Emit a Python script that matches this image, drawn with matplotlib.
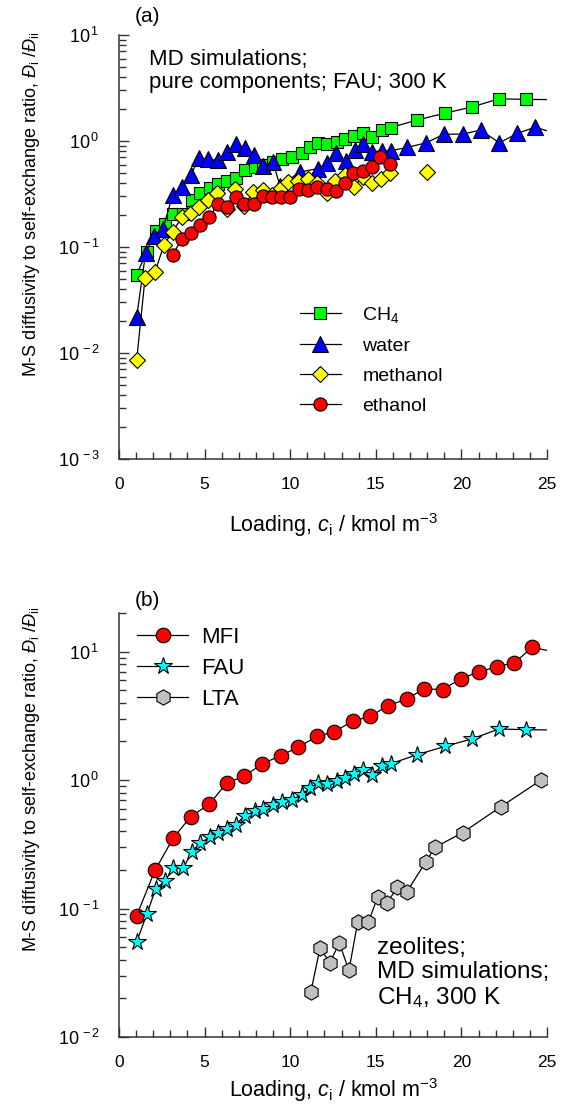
import numpy as np
import matplotlib
matplotlib.use("Agg")
import matplotlib.pyplot as plt
from matplotlib.ticker import FixedLocator, LogLocator, FuncFormatter, NullFormatter

plt.rcParams['font.family'] = ['Liberation Sans', 'DejaVu Sans']
plt.rcParams['mathtext.fontset'] = 'custom'
plt.rcParams['mathtext.rm'] = 'Liberation Sans'
plt.rcParams['mathtext.it'] = 'Liberation Sans:italic'
plt.rcParams['mathtext.bf'] = 'Liberation Sans:bold'

# ---------------- data ----------------
# CH4 in FAU (used in both panels)
fau_x = [1.03, 1.62, 2.14, 2.69, 3.17, 3.76, 4.24, 4.73, 5.32, 5.80, 6.29, 6.82, 7.36,
         7.94, 8.43, 8.98, 9.50, 10.09, 10.67, 11.16, 11.64, 12.13, 12.72, 13.20, 13.73,
         14.23, 14.76, 15.34, 15.87, 17.43, 19.04, 20.60, 22.20, 23.77, 26.0]
fau_y = [0.055, 0.090, 0.142, 0.164, 0.207, 0.207, 0.275, 0.324, 0.36, 0.39, 0.42, 0.45, 0.53,
         0.57, 0.60, 0.64, 0.67, 0.70, 0.77, 0.87, 0.95, 0.94, 0.98, 1.04, 1.11,
         1.20, 1.10, 1.28, 1.34, 1.58, 1.83, 2.09, 2.50, 2.47, 2.45]

water_x = [1.03, 1.55, 2.03, 2.55, 3.14, 3.70, 4.19, 4.69, 5.22, 5.80, 6.33, 6.83, 7.36,
           7.90, 8.43, 8.98, 9.40, 10.57, 11.64, 12.17, 12.68, 13.24, 13.78, 14.27, 14.76,
           15.34, 15.87, 16.84, 17.93, 19.00, 20.07, 21.13, 22.21, 23.27, 24.30, 26.0]
water_y = [0.0217, 0.087, 0.128, 0.147, 0.31, 0.37, 0.48, 0.69, 0.67, 0.66, 0.78, 0.94, 0.85,
           0.74, 0.58, 0.64, 0.38, 0.51, 0.55, 0.62, 0.77, 0.65, 0.82, 0.94, 0.79,
           0.81, 0.81, 0.87, 0.96, 1.16, 1.16, 1.27, 0.96, 1.18, 1.35, 1.12]

meth_x = [1.03, 1.52, 2.10, 2.63, 3.14, 3.66, 4.19, 4.69, 5.22, 5.74, 6.29, 6.78, 7.30,
          7.84, 8.39, 8.92, 9.45, 9.89, 10.47, 11.06, 11.58, 12.13, 12.62, 13.20, 13.73,
          14.23, 14.80, 15.28, 15.83]
meth_y = [0.0085, 0.051, 0.058, 0.105, 0.14, 0.19, 0.21, 0.24, 0.28, 0.325, 0.23, 0.35, 0.245,
          0.33, 0.345, 0.31, 0.36, 0.41, 0.42, 0.44, 0.40, 0.32, 0.42, 0.48, 0.37,
          0.46, 0.40, 0.435, 0.50]
meth_extra_x = [17.97]
meth_extra_y = [0.51]

eth_x = [3.14, 3.66, 4.19, 4.73, 5.27, 5.80, 6.29, 6.83, 7.30, 7.88, 8.39, 8.92, 9.45,
         9.99, 10.51, 11.06, 11.58, 12.13, 12.68, 13.20, 13.69, 14.23, 14.76, 15.25, 15.83]
eth_y = [0.084, 0.12, 0.136, 0.161, 0.193, 0.255, 0.24, 0.294, 0.255, 0.255, 0.30, 0.294, 0.294,
         0.294, 0.35, 0.345, 0.366, 0.35, 0.34, 0.40, 0.50, 0.52, 0.565, 0.70, 0.61]

mfi_x = [1.03, 2.10, 3.17, 4.19, 5.28, 6.29, 7.30, 8.37, 9.44, 10.47, 11.55, 12.56, 13.65,
         14.66, 15.73, 16.80, 17.83, 18.90, 19.96, 21.00, 22.06, 23.09, 24.14, 26.0]
mfi_y = [0.088, 0.198, 0.354, 0.52, 0.65, 0.95, 1.07, 1.34, 1.55, 1.80, 2.19, 2.38, 2.87,
         3.13, 3.80, 4.28, 5.13, 5.07, 6.14, 6.96, 7.62, 8.19, 10.8, 9.6]

lta_x = [11.20, 11.74, 12.32, 12.87, 13.43, 13.94, 14.56, 15.11, 15.67, 16.26, 16.80,
         17.91, 18.46, 20.07, 22.30, 24.65]
lta_y = [0.0223, 0.049, 0.038, 0.054, 0.033, 0.078, 0.078, 0.123, 0.111, 0.147, 0.134,
         0.23, 0.30, 0.39, 0.62, 1.0]

xticks = [0, 5, 10, 15, 20, 25]

# ---------------- figure ----------------
W, H = 568, 1119
fig = plt.figure(figsize=(W / 100, H / 100), dpi=100)
ax_a = fig.add_axes([119 / W, (H - 459) / H, 428 / W, 424 / H])
ax_b = fig.add_axes([119 / W, (H - 1037) / H, 428 / W, 424 / H])

line_kw = dict(color='black', lw=0.9, mec='black', mew=0.8)


def log_fmt(v, pos):
    e = int(round(np.log10(v)))
    return r'10$^{\,%d}$' % e


def style(ax, ylim, xlabelpad):
    ax.set_yscale('log')
    ax.set_xlim(0, 25)
    ax.set_ylim(*ylim)
    for s in ['top', 'right']:
        ax.spines[s].set_visible(False)
    for s in ['left', 'bottom']:
        ax.spines[s].set_linewidth(1.1)
        ax.spines[s].set_color('#333333')
    ax.xaxis.set_major_locator(FixedLocator(xticks))
    ax.xaxis.set_minor_locator(FixedLocator(np.arange(0, 26, 1)))
    ax.yaxis.set_major_locator(LogLocator(base=10, numticks=10))
    ax.yaxis.set_minor_locator(LogLocator(base=10, subs=np.arange(2, 10), numticks=10))
    ax.yaxis.set_major_formatter(FuncFormatter(log_fmt))
    ax.yaxis.set_minor_formatter(NullFormatter())
    ax.tick_params(which='both', direction='in', color='#333333', width=1.0)
    ax.tick_params(axis='x', labelsize=12.5)
    ax.tick_params(axis='y', labelsize=13)
    ax.tick_params(which='major', length=7)
    ax.tick_params(which='minor', length=5)
    ax.tick_params(axis='x', which='major', pad=13)
    ax.tick_params(axis='y', which='major', pad=14)
    ax.set_xlabel(r'Loading, $\mathit{c}_{\mathrm{i}}$ / kmol m$^{-3}$', fontsize=15.5,
                  labelpad=xlabelpad)
    ax.set_ylabel(r'M-S diffusivity to self-exchange ratio, $\mathit{Đ}_{\mathrm{i}}$ /$\mathit{Đ}_{\mathrm{ii}}$',
                  fontsize=13)


# ---------- panel (a) ----------
style(ax_a, (1e-3, 10), 14)
ax_a.plot(fau_x, fau_y, marker='s', ms=9, mfc='#00ff00', label='CH$_4$', **line_kw)
ax_a.plot(water_x, water_y, marker='^', ms=11, mfc='#0000ff', label='water', **line_kw)
ax_a.plot(meth_x, meth_y, marker='D', ms=8.5, mfc='#ffff00', label='methanol', **line_kw)
ax_a.plot(meth_extra_x, meth_extra_y, ls='none', marker='D', ms=8.5, mfc='#ffff00',
          mec='black', mew=0.8)
ax_a.plot(eth_x, eth_y, marker='o', ms=9.5, mfc='#ff0000', label='ethanol', **line_kw)
ax_a.legend(loc='upper left', bbox_to_anchor=(0.423, 0.3626), frameon=False, fontsize=14,
            handlelength=2.1, handletextpad=1.1, labelspacing=0.63, borderpad=0,
            borderaxespad=0, numpoints=1)
ax_a.text(0.07, 0.968, 'MD simulations;\npure components; FAU; 300 K',
          transform=ax_a.transAxes, fontsize=16, va='top', ha='left', linespacing=1.15)
ax_a.yaxis.set_label_coords(-0.18, 0.60)
fig.text(135 / W, 1 - 16 / H, '(a)', fontsize=15, ha='left', va='center')

# ---------- panel (b) ----------
style(ax_b, (1e-2, 20), 4)
ax_b.plot(mfi_x, mfi_y, marker='o', ms=10.5, mfc='#ff0000', label='MFI', **line_kw)
ax_b.plot(fau_x, fau_y, marker='*', ms=13, mfc='#00ffff', label='FAU', **line_kw)
ax_b.plot(lta_x, lta_y, marker='h', ms=11, mfc='#c0c0c0', label='LTA', **line_kw)
ax_b.legend(loc='upper left', bbox_to_anchor=(0.042, 0.967), frameon=False, fontsize=16,
            handlelength=2.3, handletextpad=0.6, labelspacing=0.45, borderpad=0,
            borderaxespad=0, numpoints=1)
ax_b.text(0.603, 0.235, 'zeolites;\nMD simulations;\nCH$_4$, 300 K',
          transform=ax_b.transAxes, fontsize=17.5, va='top', ha='left', linespacing=1.1)
ax_b.yaxis.set_label_coords(-0.18, 0.608)
fig.text(135 / W, 1 - 600 / H, '(b)', fontsize=15, ha='left', va='center')

fig.savefig('out.png', dpi=100)
